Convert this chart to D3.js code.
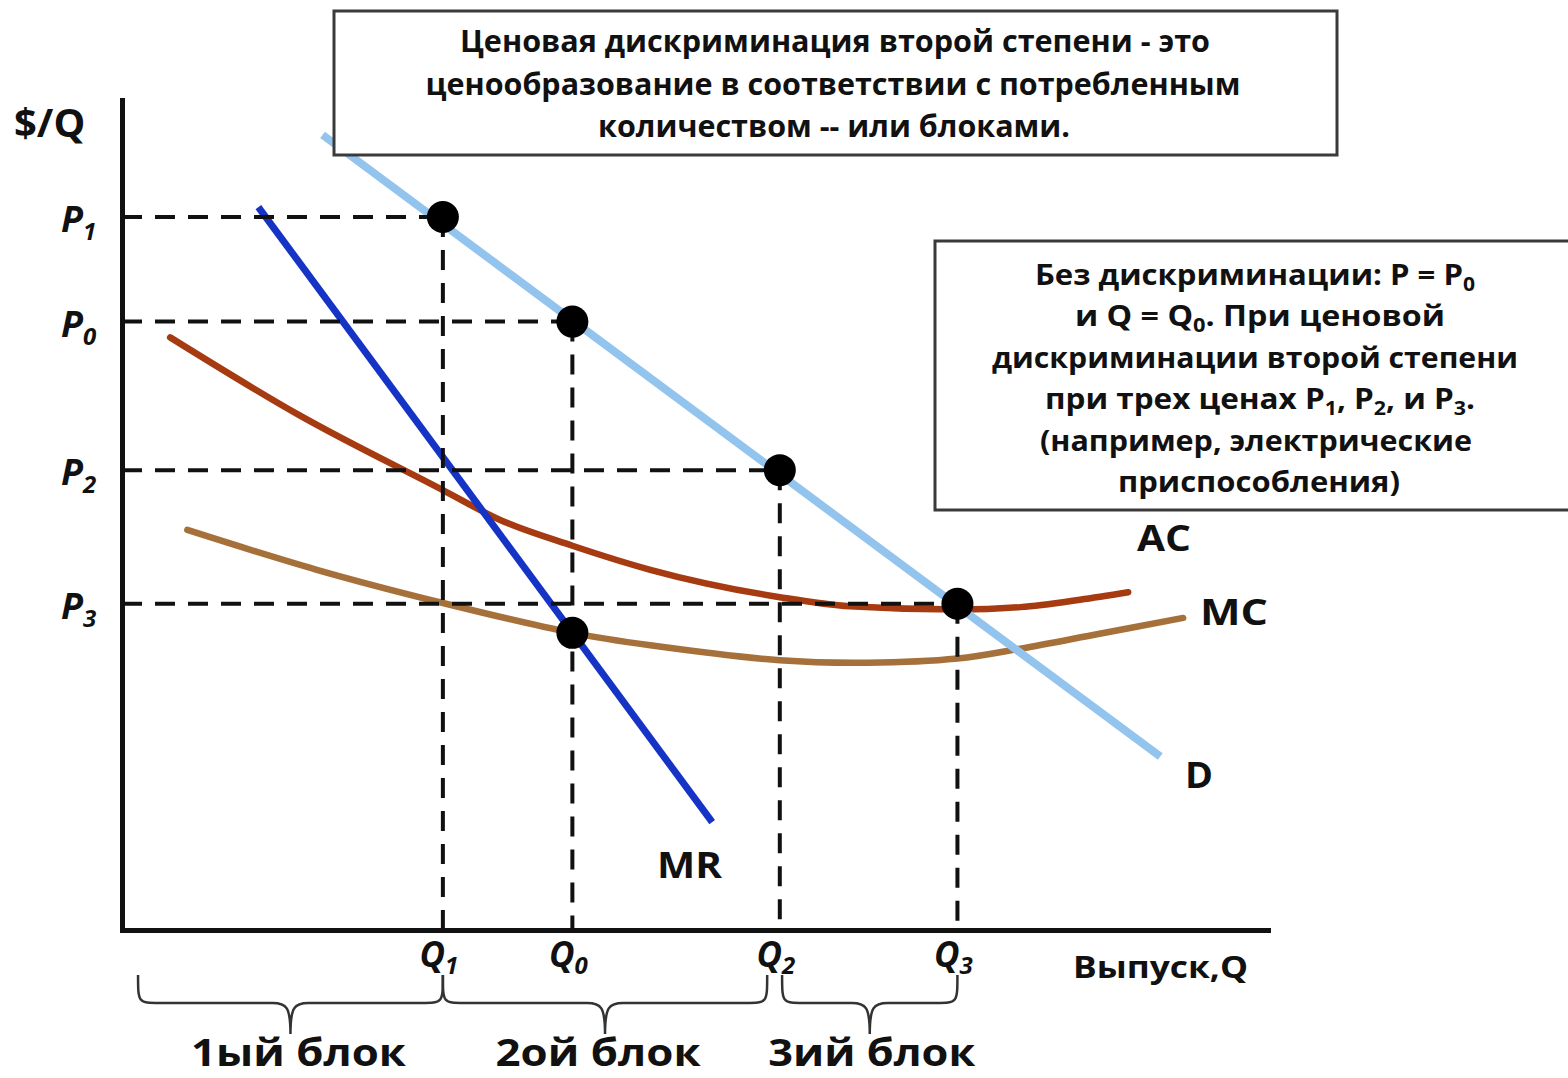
<!DOCTYPE html>
<html><head><meta charset="utf-8">
<script src="https://cdn.jsdelivr.net/npm/d3@7"></script>
<style>
body{margin:0;background:#fff}
svg{display:block}
text{font-family:"Open Sans",sans-serif;font-weight:700;fill:#111}
</style>
</head><body>
<svg id="c" width="1568" height="1078"></svg>
<script>
// ---------- data ----------
const qNames   = ["1", "0", "2", "3"];          // subscripts of Q labels
const qValues  = [28.0, 39.3, 57.4, 72.9];
const pNames   = ["1", "0", "2", "3"];          // subscripts of P labels
const pValues  = [85.9, 73.3, 55.4, 39.3];
const mrMcX = 39.3, mrMcY = 35.8;               // MR = MC point
const demandX = [17.5, 90.6];
const demandY = [95.8, 20.9];
const mrX = [11.9, 51.5];
const mrY = [87.1, 13.0];
const acX = [4.2, 15.5, 28.0, 33.0, 39.3, 46.1, 57.4, 63.5, 72.9, 78.4, 83.6, 87.8];
const acY = [71.4, 62.0, 53.0, 49.4, 46.3, 43.4, 40.1, 39.0, 38.6, 38.9, 39.8, 40.7];
const mcX = [5.7, 17.0, 28.0, 39.3, 46.1, 57.4, 65.0, 72.9, 78.4, 85.3, 92.6];
const mcY = [48.2, 43.4, 39.4, 35.8, 34.3, 32.5, 32.2, 32.7, 33.9, 35.7, 37.6];
const blockNames = ["1ый блок", "2ой блок", "3ий блок"];
const blockStart = [1.4, 28.0, 57.6];
const blockEnd   = [28.0, 56.3, 72.9];
const titleLines = [
  "Ценовая дискриминация второй степени - это",
  "ценообразование в соответствии с потребленным",
  "количеством -- или блоками."
];
const noteLines = [
  [["Без дискриминации: P = P",0],["0",1]],
  [["и Q = Q",0],["0",1],[".  При ценовой",0]],
  [["дискриминации второй степени",0]],
  [["при трех ценах P",0],["1",1],[", P",0],["2",1],[", и P",0],["3",1],[".",0]],
  [["(например, электрические",0]],
  [["приспособления)",0]]
];

// ---------- scales ----------
const svg = d3.select("#c");
const x = d3.scaleLinear().domain([0,100]).range([122,1268]);
const y = d3.scaleLinear().domain([0,100]).range([930,100]);

// ---------- axes ----------
const gx = svg.append("g").attr("transform",`translate(0,${y(0)})`)
  .call(d3.axisBottom(x).tickValues(qValues).tickSize(0).tickFormat(""));
const gy = svg.append("g").attr("transform",`translate(${x(0)},0)`)
  .call(d3.axisLeft(y).tickValues(pValues).tickSize(0).tickFormat(""));
[gx,gy].forEach(g=>g.select(".domain").attr("stroke","#111").attr("stroke-width",5).attr("stroke-linecap","square"));

// ---------- curves ----------
const line = d3.line().x(d=>x(d[0])).y(d=>y(d[1])).curve(d3.curveMonotoneX);
const smooth = d3.line().x(d=>x(d[0])).y(d=>y(d[1])).curve(d3.curveCatmullRom.alpha(0.5));
const zip = (a,b)=>a.map((v,i)=>[v,b[i]]);
svg.append("path").attr("d",smooth(zip(mcX,mcY))).attr("fill","none")
  .attr("stroke","#A6703A").attr("stroke-width",6.5).attr("stroke-linecap","round");
svg.append("path").attr("d",line(zip(acX,acY))).attr("fill","none")
  .attr("stroke","#A63A10").attr("stroke-width",6.5).attr("stroke-linecap","round");
svg.append("path").attr("d",d3.line().x(d=>x(d[0])).y(d=>y(d[1]))(zip(mrX,mrY))).attr("fill","none")
  .attr("stroke","#1533C4").attr("stroke-width",7);
svg.append("path").attr("d",d3.line().x(d=>x(d[0])).y(d=>y(d[1]))(zip(demandX,demandY))).attr("fill","none")
  .attr("stroke","#93C4EE").attr("stroke-width",8);

// ---------- dashed guides ----------
const dash = svg.append("g").attr("stroke","#111").attr("stroke-width",4).attr("stroke-dasharray","20,13").attr("fill","none");
qValues.forEach((q,i)=>{
  const p = pValues[i];
  dash.append("line").attr("x1",x(0)).attr("x2",x(q)).attr("y1",y(p)).attr("y2",y(p));
  dash.append("line").attr("x1",x(q)).attr("x2",x(q)).attr("y1",y(p)).attr("y2",y(0));
});

// ---------- dots ----------
const dots = zip(qValues,pValues).concat([[mrMcX,mrMcY]]);
svg.selectAll("circle.dot").data(dots).join("circle").attr("class","dot")
  .attr("cx",d=>x(d[0])).attr("cy",d=>y(d[1])).attr("r",16).attr("fill","#000");

// ---------- axis labels ----------
svg.append("text").attr("x",14).attr("y",137).attr("font-size",40).text("$/Q");
pValues.forEach((p,i)=>{
  const t = svg.append("text").attr("x",61).attr("y",y(p)+15).attr("font-size",36).attr("font-style","italic");
  t.append("tspan").text("P");
  t.append("tspan").attr("font-size",24).attr("dy",8).text(pNames[i]);
});
qValues.forEach((q,i)=>{
  const t = svg.append("text").attr("x",x(q)-4).attr("y",y(0)+37).attr("font-size",35)
    .attr("font-style","italic").attr("text-anchor","middle");
  t.append("tspan").text("Q");
  t.append("tspan").attr("font-size",24).attr("dy",7).text(qNames[i]);
});
svg.append("text").attr("x",1073).attr("y",978).attr("font-size",31)
  .attr("textLength",175).attr("lengthAdjust","spacingAndGlyphs").text("Выпуск,Q");

// curve labels
svg.append("text").attr("x",1137).attr("y",551).attr("font-size",36).attr("textLength",54).attr("lengthAdjust","spacingAndGlyphs").text("AC");
svg.append("text").attr("x",1200).attr("y",625).attr("font-size",36).attr("textLength",68).attr("lengthAdjust","spacingAndGlyphs").text("MC");
svg.append("text").attr("x",1185).attr("y",788).attr("font-size",36).attr("textLength",28).attr("lengthAdjust","spacingAndGlyphs").text("D");
svg.append("text").attr("x",657).attr("y",878).attr("font-size",36).attr("textLength",65).attr("lengthAdjust","spacingAndGlyphs").text("MR");

// ---------- braces ----------
const yTop = y(0)+45, yMid = y(0)+73, yTip = y(0)+104;
const labelShift = [8, -7, 2];
blockNames.forEach((name,i)=>{
  const x0 = x(blockStart[i]), x1 = x(blockEnd[i]), xm = (x0+x1)/2;
  const d = `M${x0},${yTop} C${x0},${yMid} ${x0},${yMid} ${x0+22},${yMid} L${xm-18},${yMid} C${xm-4},${yMid} ${xm},${yMid+4} ${xm},${yTip} C${xm},${yMid+4} ${xm+4},${yMid} ${xm+18},${yMid} L${x1-22},${yMid} C${x1},${yMid} ${x1},${yMid} ${x1},${yTop}`;
  svg.append("path").attr("d",d).attr("fill","none").attr("stroke","#333").attr("stroke-width",2.5);
  svg.append("text").attr("x",xm+labelShift[i]).attr("y",1066).attr("font-size",37).attr("text-anchor","middle")
    .attr("textLength",[215,205,207][i]).attr("lengthAdjust","spacingAndGlyphs").text(name);
});

// ---------- title box ----------
svg.append("rect").attr("x",334).attr("y",11).attr("width",1003).attr("height",144)
  .attr("fill","#fff").attr("stroke","#3a3a3a").attr("stroke-width",3);
const tW = [750,815,472], tC = [835,833,834], tY = [52,95,137];
titleLines.forEach((s,i)=>{
  svg.append("text").attr("x",tC[i]).attr("y",tY[i]).attr("font-size",30).attr("text-anchor","middle")
    .attr("textLength",tW[i]).attr("lengthAdjust","spacingAndGlyphs").text(s);
});

// ---------- note box ----------
svg.append("rect").attr("x",935).attr("y",241).attr("width",660).attr("height",269)
  .attr("fill","#fff").attr("stroke","#3a3a3a").attr("stroke-width",3);
const nW = [440,370,526,430,432,282], nC = [1255,1260,1255,1260,1256,1259], nY = [285,326,368,409,451,492];
noteLines.forEach((segs,i)=>{
  const t = svg.append("text").attr("x",nC[i]).attr("y",nY[i]).attr("font-size",28).attr("text-anchor","middle")
    .attr("textLength",nW[i]).attr("lengthAdjust","spacingAndGlyphs");
  let sub = false;
  segs.forEach(([s,isSub])=>{
    const ts = t.append("tspan").text(s);
    if (isSub && !sub) { ts.attr("dy",6).attr("font-size",19); sub = true; }
    else if (isSub) { ts.attr("font-size",19); }
    else if (sub) { ts.attr("dy",-6); sub = false; }
  });
});
</script>
</body></html>
